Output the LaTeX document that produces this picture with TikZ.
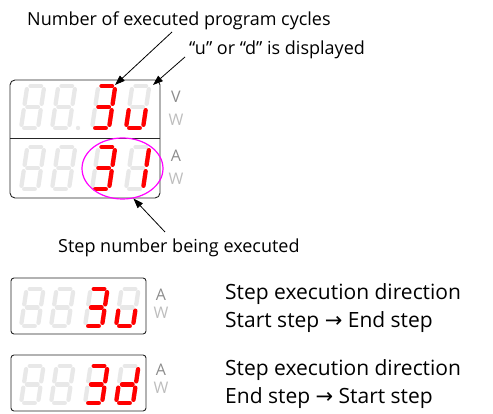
\documentclass[tikz,border=0pt]{standalone}
\usepackage{fontspec}
\setmainfont{Open Sans}
\newfontfamily\arrowfont{DejaVu Sans}
\usetikzlibrary{arrows.meta,shapes.geometric}

\definecolor{segRed}{HTML}{FF0000}
\definecolor{segGhost}{HTML}{E8E8E8}
\definecolor{unitGray}{HTML}{8C8C8C}
\definecolor{unitLight}{HTML}{BDBDBD}
\definecolor{ringMagenta}{HTML}{FF00FF}

\tikzset{
  panelBox/.style={draw=black!85, line width=0.9pt, rounded corners=5pt},
  ghostSeg/.style={draw=segGhost, line width=4.3pt, line cap=round,
    shorten <=3.2pt, shorten >=3.2pt},
  litSeg/.style={ghostSeg, draw=segRed},
  callout/.style={-{Triangle[length=10pt,width=7pt]}, line width=0.8pt},
  labelText/.style={font=\fontsize{18}{21}\selectfont, inner sep=0pt,
    anchor=base west},
  unitText/.style={font=\fontsize{16}{18}\selectfont, inner sep=0pt},
  noteText/.style={font=\fontsize{21}{28}\selectfont, align=left,
    inner sep=0pt, anchor=north west}
}

% seven-segment digit: #1 origin, #2 height, #3 lit segments (corner pairs)
\newcommand{\segdigit}[3]{%
  \begin{scope}[shift={#1}, xslant=0.15]
    \coordinate (bl) at (0,0);       \coordinate (br) at (17,0);
    \coordinate (ml) at (0,{#2/2});  \coordinate (mr) at (17,{#2/2});
    \coordinate (tl) at (0,#2);      \coordinate (tr) at (17,#2);
    \foreach \p/\q in {bl/br, br/mr, mr/tr, tr/tl, tl/ml, ml/bl, ml/mr}
      \draw[ghostSeg] (\p) -- (\q);
    \if\relax\detokenize{#3}\relax\else
      \foreach \p/\q in {#3}
        \draw[litSeg] (\p) -- (\q);
    \fi
  \end{scope}}

\begin{document}
\begin{tikzpicture}[x=1pt,y=1pt]
  \useasboundingbox (0,0) rectangle (493,414);

  % two-row display
  \draw[panelBox] (10,216) rectangle (160,334);
  \draw[black!85, line width=0.9pt] (10,276) -- (160,276);
  \segdigit{(21,286)}{42}{}
  \segdigit{(52,286)}{42}{}
  \fill[segGhost] (78,286) circle (2.2);
  \segdigit{(92,286)}{42}{tl/tr, tr/mr, ml/mr, mr/br, bl/br}
  \segdigit{(126,286)}{42}{ml/bl, bl/br, br/mr}
  \segdigit{(21,225)}{42}{}
  \segdigit{(52,225)}{42}{}
  \segdigit{(92,225)}{42}{tl/tr, tr/mr, ml/mr, mr/br, bl/br}
  \segdigit{(126,225)}{42}{tr/mr, mr/br}
  \node[unitText, text=unitGray] (unitV) at (176,317) {V};
  \node[unitText, text=unitLight] (unitW1) at (176,294) {W};
  \node[unitText, text=unitGray] (unitA) at (176,258) {A};
  \node[unitText, text=unitLight] (unitW2) at (176,235) {W};
  \node[draw=ringMagenta, line width=1.2pt, ellipse, inner sep=0pt,
    minimum width=81, minimum height=61] (ring) at (122.5,245.5) {};

  \node[labelText] (cycles) at (27,388) {Number of executed program cycles};
  \node[labelText] (shown) at (189,359) {“u” or “d” is displayed};
  \node[labelText] (stepNo) at (58,161) {Step number being executed};

  \coordinate (cyclesTail) at (172,382);
  \coordinate (cyclesTip) at (115,329);
  \coordinate (shownTail) at (185,357);
  \coordinate (shownTip) at (153,329);
  \coordinate (stepTail) at (165,182);
  \draw[callout] (cyclesTail) -- (cyclesTip);
  \draw[callout] (shownTail) -- (shownTip);
  \draw[callout] (stepTail) -- (ring.290);

  % count up
  \draw[panelBox, rounded corners=3pt] (11,80) rectangle (146,136);
  \segdigit{(21,88)}{37}{}
  \segdigit{(51,88)}{37}{}
  \segdigit{(85,88)}{37}{tl/tr, tr/mr, ml/mr, mr/br, bl/br}
  \segdigit{(116,88)}{37}{ml/bl, bl/br, br/mr}
  \node[unitText, text=unitGray] (upA) at (161,119) {A};
  \node[unitText, text=unitLight] (upW) at (161,101) {W};
  \node[noteText] (dirUp) at (225,131)
    {Step execution direction\\Start step {\arrowfont →} End step};

  % count down
  \draw[panelBox, rounded corners=3pt] (11,3) rectangle (146,59);
  \segdigit{(21,11)}{37}{}
  \segdigit{(51,11)}{37}{}
  \segdigit{(85,11)}{37}{tl/tr, tr/mr, ml/mr, mr/br, bl/br}
  \segdigit{(116,11)}{37}{tr/mr, mr/br, bl/br, ml/bl, ml/mr}
  \node[unitText, text=unitGray] (downA) at (161,44) {A};
  \node[unitText, text=unitLight] (downW) at (161,26) {W};
  \node[noteText] (dirDown) at (225,55)
    {Step execution direction\\End step {\arrowfont →} Start step};
\end{tikzpicture}
\end{document}
